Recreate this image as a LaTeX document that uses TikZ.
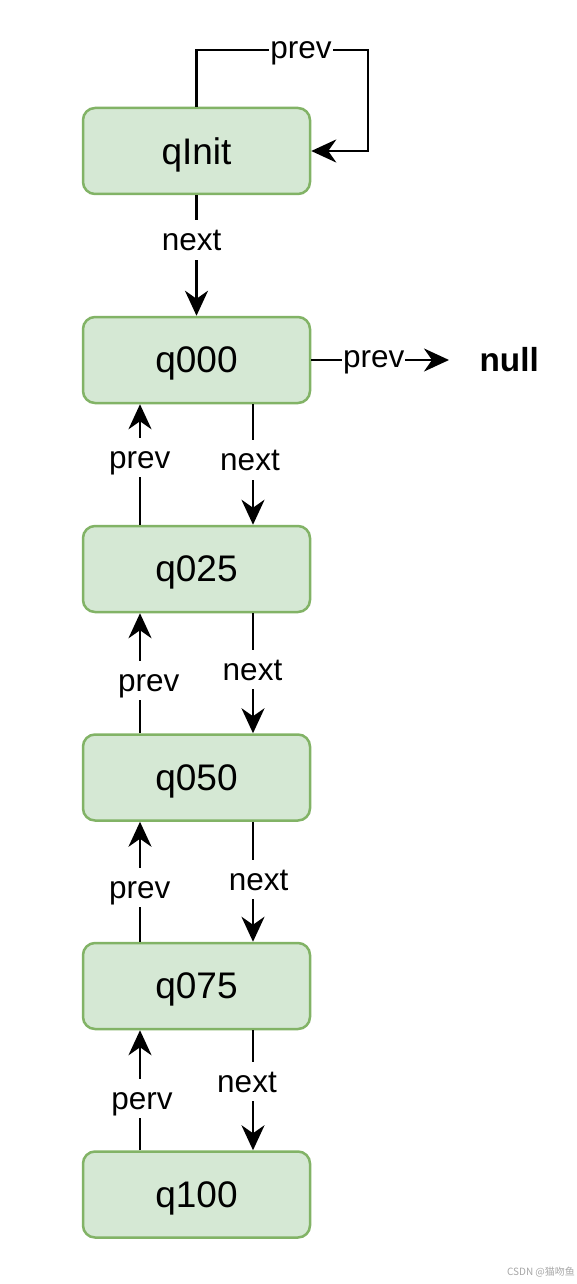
\documentclass[tikz,border=0pt]{standalone}
\usepackage{fontspec}
\setmainfont{Liberation Sans}
\newfontfamily\cjkfont{Noto Sans CJK SC}
\usetikzlibrary{arrows.meta}
\definecolor{boxfill}{HTML}{D5E8D4}
\definecolor{boxline}{HTML}{82B366}
\tikzset{
  qbox/.style={draw=boxline, fill=boxfill, line width=2.5pt, rounded corners=12pt,
    minimum width=227pt, minimum height=86pt, inner sep=0pt, text depth=0pt,
    font=\fontsize{37}{44}\selectfont},
  arr/.style={line width=2.8pt, -{Stealth[length=25pt,width=23pt,inset=8pt]}},
  lbl/.style={fill=white, inner xsep=1pt, inner ysep=2pt, text height=28.5pt, text depth=6.7pt,
    font=\fontsize{31.5}{38}\selectfont},
}
\begin{document}
\begin{tikzpicture}[x=1pt,y=-1pt]
\useasboundingbox (0,0) rectangle (577,1284);
\node[qbox] (qinit) at (196.5,151) {qInit};
\node[qbox] (q000) at (196.5,360) {q000};
\node[qbox] (q025) at (196.5,569) {q025};
\node[qbox] (q050) at (196.5,777.5) {q050};
\node[qbox] (q075) at (196.5,986) {q075};
\node[qbox] (q100) at (196.5,1194.5) {q100};
% self loop
\coordinate (loopc) at (368,50);
\draw[arr] (qinit.north) |- (loopc) |- (qinit.east);
\node[lbl] (lloop) at (301,47.4) {prev};
% qInit -> q000
\draw[arr] (qinit.south) -- (q000.north);
\node[lbl] (l0) at (191.7,239.9) {next};
% q000 -> null
\coordinate (nulltip) at (449,360);
\draw[arr] (q000.east) -- (nulltip);
\node[lbl] (lnull) at (373.7,356.2) {prev};
\node[font=\fontsize{33.3}{40}\selectfont\bfseries] (null) at (509.2,360) {null};
% next arrows
\draw[arr] ([xshift=56.5pt]q000.south) -- ([xshift=56.5pt]q025.north);
\node[lbl] (n1) at (250,459.9) {next};
\draw[arr] ([xshift=56.5pt]q025.south) -- ([xshift=56.5pt]q050.north);
\node[lbl] (n2) at (252.5,669.4) {next};
\draw[arr] ([xshift=56.5pt]q050.south) -- ([xshift=56.5pt]q075.north);
\node[lbl] (n3) at (258.7,879.1) {next};
\draw[arr] ([xshift=56.5pt]q075.south) -- ([xshift=56.5pt]q100.north);
\node[lbl] (n4) at (247,1081.2) {next};
% prev arrows
\draw[arr] ([xshift=-56.5pt]q025.north) -- ([xshift=-56.5pt]q000.south);
\node[lbl] (p1) at (139.7,457.4) {prev};
\draw[arr] ([xshift=-56.5pt]q050.north) -- ([xshift=-56.5pt]q025.south);
\node[lbl] (p2) at (148.7,680.7) {prev};
\draw[arr] ([xshift=-56.5pt]q075.north) -- ([xshift=-56.5pt]q050.south);
\node[lbl] (p3) at (139.7,887.4) {prev};
\draw[arr] ([xshift=-56.5pt]q100.north) -- ([xshift=-56.5pt]q075.south);
\node[lbl] (p4) at (142,1098.2) {perv};
% watermark
\node[text=black!35, font=\cjkfont\fontsize{10}{12}\selectfont] (wm) at (541,1272) {CSDN @猫吻鱼};
\end{tikzpicture}
\end{document}
